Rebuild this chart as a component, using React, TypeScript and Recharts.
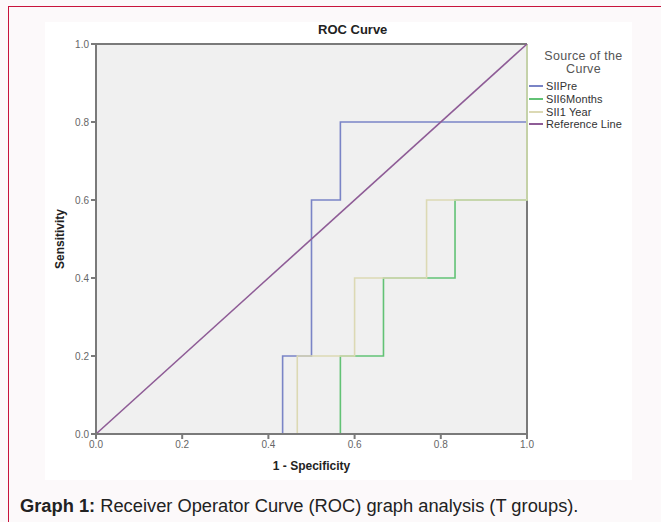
import React from "react";
import {
  LineChart,
  Line,
  XAxis,
  YAxis,
  CartesianGrid,
  ReferenceLine,
  Label,
} from "recharts";

// Series: ROC step points (1 - specificity, sensitivity)
const siiPreFpr = [0, 0.433, 0.433, 0.5, 0.5, 0.567, 0.567, 1, 1];
const siiPreTpr = [0, 0, 0.2, 0.2, 0.6, 0.6, 0.8, 0.8, 1];
const sii6MonthsFpr = [0, 0.567, 0.567, 0.667, 0.667, 0.833, 0.833, 1, 1];
const sii6MonthsTpr = [0, 0, 0.2, 0.2, 0.4, 0.4, 0.6, 0.6, 1];
const sii1YearFpr = [0, 0.467, 0.467, 0.6, 0.6, 0.767, 0.767, 1, 1];
const sii1YearTpr = [0, 0, 0.2, 0.2, 0.4, 0.4, 0.6, 0.6, 1];
const refFpr = [0, 1];
const refTpr = [0, 1];

const seriesNames = ["SIIPre", "SII6Months", "SII1 Year", "Reference Line"];
const axisTicks = [0, 0.2, 0.4, 0.6, 0.8, 1.0];

const toPoints = (xs: number[], ys: number[]) =>
  xs.map((x, i) => ({ x, y: ys[i] }));

const series = [
  { name: seriesNames[0], data: toPoints(siiPreFpr, siiPreTpr), color: "#7a84c6" },
  { name: seriesNames[1], data: toPoints(sii6MonthsFpr, sii6MonthsTpr), color: "#62c275" },
  { name: seriesNames[2], data: toPoints(sii1YearFpr, sii1YearTpr), color: "#dcd9b4" },
  { name: seriesNames[3], data: toPoints(refFpr, refTpr), color: "#8e5c96" },
];

const FONT = "'Liberation Sans', Arial, sans-serif";

const LegendBlock = () => (
  <div
    style={{
      position: "absolute",
      left: 529,
      top: 50,
      width: 112,
      fontFamily: FONT,
      color: "#444",
    }}
  >
    <div
      style={{
        textAlign: "center",
        fontSize: 12.5,
        lineHeight: "12.5px",
        color: "#555",
        letterSpacing: 0.3,
        marginLeft: -3,
      }}
    >
      Source of the
      <br />
      Curve
    </div>
    <div style={{ marginTop: 5 }}>
      {series.map((s) => (
        <div key={s.name} style={{ display: "flex", alignItems: "center", height: 12.7 }}>
          <div style={{ width: 14, height: 2, background: s.color, marginRight: 3 }} />
          <span style={{ fontSize: 11, color: "#333", letterSpacing: 0.1 }}>{s.name}</span>
        </div>
      ))}
    </div>
  </div>
);

export default function App() {
  return (
    <div
      style={{
        position: "fixed",
        left: 0,
        top: 0,
        width: 661,
        height: 522,
        background: "#fcf9fa",
        overflow: "hidden",
        fontFamily: FONT,
      }}
    >
      <div
        style={{
          position: "absolute",
          left: 8,
          top: 6,
          width: 700,
          height: 600,
          border: "1px solid #c8143c",
        }}
      />
      <div
        style={{
          position: "absolute",
          left: 45,
          top: 22,
          width: 587,
          height: 458,
          background: "#ffffff",
        }}
      />
      <div
        style={{
          position: "absolute",
          left: 318,
          top: 22,
          fontSize: 13,
          fontWeight: "bold",
          color: "#222",
        }}
      >
        ROC Curve
      </div>
      <div style={{ position: "absolute", left: 0, top: 0 }}>
        <LineChart
          width={661}
          height={522}
          margin={{ top: 44, right: 134, bottom: 58, left: 56 }}
        >
          <CartesianGrid fill="#f0f0f0" horizontal={false} vertical={false} />
          <XAxis
            dataKey="x"
            type="number"
            domain={[0, 1]}
            ticks={axisTicks}
            tickFormatter={(v: number) => v.toFixed(1)}
            height={30}
            stroke="#7a7a7a"
            strokeWidth={2}
            tickSize={5}
            tick={{ fontSize: 10, fill: "#666", fontFamily: FONT }}
            allowDuplicatedCategory={false}
          >
            <Label
              value="1 - Specificity"
              position="insideBottom"
              offset={-6}
              style={{ fontSize: 12, fontWeight: "bold", fill: "#222", fontFamily: FONT }}
            />
          </XAxis>
          <YAxis
            type="number"
            domain={[0, 1]}
            ticks={axisTicks}
            tickFormatter={(v: number) => v.toFixed(1)}
            width={40}
            stroke="#7a7a7a"
            strokeWidth={2}
            tickSize={5}
            tick={{ fontSize: 10, fill: "#666", fontFamily: FONT }}
          >
            <Label
              value="Sensitivity"
              angle={-90}
              position="insideLeft"
              offset={4}
              style={{
                fontSize: 12,
                fontWeight: "bold",
                fill: "#222",
                fontFamily: FONT,
                textAnchor: "middle",
              }}
            />
          </YAxis>
          <ReferenceLine y={1} stroke="#7a7a7a" strokeWidth={2} />
          <ReferenceLine x={1} stroke="#7a7a7a" strokeWidth={2} />
          {series.map((s) => (
            <Line
              key={s.name}
              data={s.data}
              dataKey="y"
              name={s.name}
              type="linear"
              stroke={s.color}
              strokeWidth={1.6}
              dot={false}
              activeDot={false}
              isAnimationActive={false}
            />
          ))}
        </LineChart>
      </div>
      <LegendBlock />
      <div
        style={{
          position: "absolute",
          left: 20,
          top: 495,
          fontSize: 18.3,
          color: "#222",
          whiteSpace: "nowrap",
        }}
      >
        <b>Graph 1:</b> Receiver Operator Curve (ROC) graph analysis (T groups).
      </div>
    </div>
  );
}
